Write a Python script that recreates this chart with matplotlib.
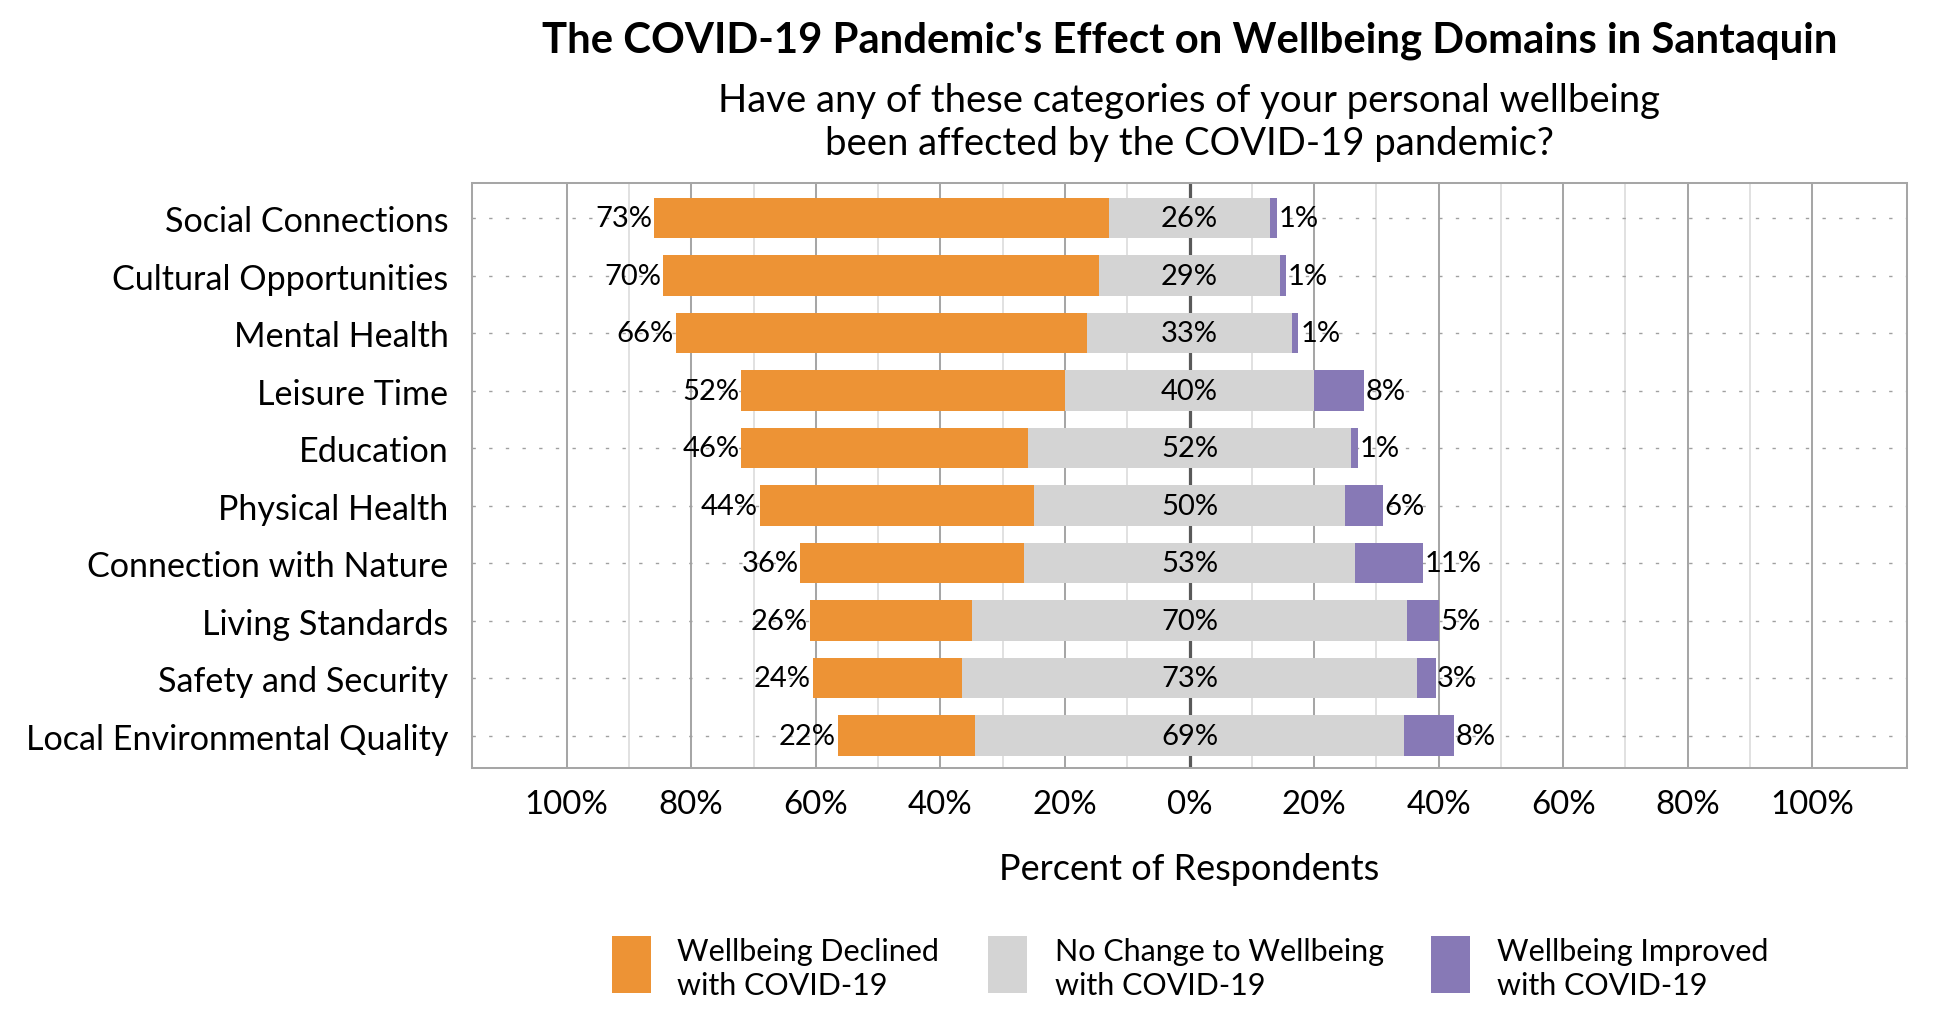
import numpy as np
import matplotlib
matplotlib.use("Agg")
import matplotlib.pyplot as plt
from matplotlib.patches import Rectangle

plt.rcParams['font.family'] = ['Lato', 'DejaVu Sans']

# ---------------- data ----------------
categories = ["Social Connections", "Cultural Opportunities", "Mental Health",
              "Leisure Time", "Education", "Physical Health",
              "Connection with Nature", "Living Standards",
              "Safety and Security", "Local Environmental Quality"]
declined = [73, 70, 66, 52, 46, 44, 36, 26, 24, 22]
no_change = [26, 29, 33, 40, 52, 50, 53, 70, 73, 69]
improved = [1, 1, 1, 8, 1, 6, 11, 5, 3, 8]

series_labels = ["Wellbeing Declined\nwith COVID-19",
                 "No Change to Wellbeing\nwith COVID-19",
                 "Wellbeing Improved\nwith COVID-19"]
major_ticks = [-100, -80, -60, -40, -20, 0, 20, 40, 60, 80, 100]
minor_ticks = [-90, -70, -50, -30, -10, 10, 30, 50, 70, 90]
tick_labels = ["100%", "80%", "60%", "40%", "20%", "0%", "20%", "40%", "60%", "80%", "100%"]

title = "The COVID-19 Pandemic's Effect on Wellbeing Domains in Santaquin"
subtitle1 = "Have any of these categories of your personal wellbeing"
subtitle2 = "been affected by the COVID-19 pandemic?"
xlabel = "Percent of Respondents"

# ---------------- style ----------------
C_DECL = "#ED9335"
C_NEUT = "#D4D4D4"
C_IMPR = "#8779B6"

W, H = 1950, 1020
fig = plt.figure(figsize=(W / 100, H / 100), dpi=100)

ax_l, ax_r, ax_t, ax_b = 472, 1907, 184, 769
ax = fig.add_axes([ax_l / W, 1 - ax_b / H, (ax_r - ax_l) / W, (ax_b - ax_t) / H])

dec = np.array(declined, dtype=float)
neu = np.array(no_change, dtype=float)
imp = np.array(improved, dtype=float)
y = np.arange(len(categories))
bh = 0.70

ax.barh(y, neu, left=-neu / 2, height=bh, color=C_NEUT, zorder=2, label=series_labels[1])
ax.barh(y, dec, left=-neu / 2 - dec, height=bh, color=C_DECL, zorder=2, label=series_labels[0])
ax.barh(y, imp, left=neu / 2, height=bh, color=C_IMPR, zorder=2, label=series_labels[2])

vfs = 21
for i in range(len(categories)):
    ax.annotate(f"{declined[i]}%", xy=(-neu[i] / 2 - dec[i], y[i]), xytext=(-1.2, 0),
                textcoords="offset points", ha="right", va="center", fontsize=vfs, zorder=4)
    ax.text(0, y[i], f"{no_change[i]}%", ha="center", va="center", fontsize=vfs, zorder=4)
    ax.annotate(f"{improved[i]}%", xy=(neu[i] / 2 + imp[i], y[i]), xytext=(1.2, 0),
                textcoords="offset points", ha="left", va="center", fontsize=vfs, zorder=4)

ax.set_xlim(-115.2, 115.2)
ax.set_ylim(9.565, -0.609)

ax.set_xticks(major_ticks)
ax.set_xticklabels(tick_labels)
ax.set_xticks(minor_ticks, minor=True)
ax.set_yticks(y)
ax.set_yticklabels(categories)

ax.set_axisbelow(True)
ax.grid(which="major", axis="x", color="#A6A6A6", lw=1.45, zorder=0.5)
ax.grid(which="minor", axis="x", color="#D9D9D9", lw=1.1, zorder=0.5)
ax.grid(which="major", axis="y", color="#A0A0A0", lw=1.0, linestyle=(0, (2.4, 9.6)), zorder=0.5)
ax.axvline(0, color="#595959", lw=2.3, zorder=0.8)

for s in ax.spines.values():
    s.set_color("#A6A6A6")
    s.set_linewidth(1.45)

ax.tick_params(axis="both", which="both", length=0)
ax.tick_params(axis="x", pad=15, labelsize=23.8)
ax.tick_params(axis="y", pad=17, labelsize=24.6)

ax.set_xlabel(xlabel, fontsize=26, va="baseline")
ax.xaxis.set_label_coords(0.5, -(880 - ax_b) / (ax_b - ax_t))

cx = (ax_l + ax_r) / 2 / W
fig.text(cx, 1 - 52 / H, title, ha="center", va="baseline", fontsize=30.2, fontweight="bold")
fig.text(cx, 1 - 112 / H, subtitle1, ha="center", va="baseline", fontsize=27.5)
fig.text(cx, 1 - 155 / H, subtitle2, ha="center", va="baseline", fontsize=27.5)

# ---------------- legend ----------------
patch_x = [612, 988, 1431]
text_x = [677, 1055, 1497]
colors = [C_DECL, C_NEUT, C_IMPR]
for px, tx, col, lab in zip(patch_x, text_x, colors, series_labels):
    fig.add_artist(Rectangle((px / W, 1 - 993.5 / H), 39 / W, 57 / H,
                             transform=fig.transFigure, facecolor=col, edgecolor="none"))
    fig.text(tx / W, 1 - 995 / H, lab, ha="left", va="baseline", fontsize=22, linespacing=1.28)

fig.savefig("out.png", dpi=100)
